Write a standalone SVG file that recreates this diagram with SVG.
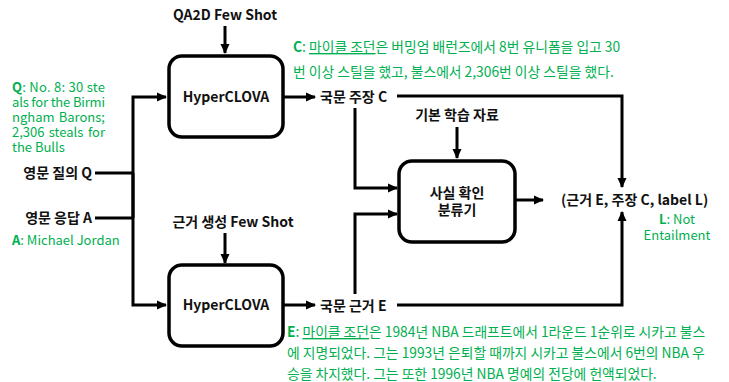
<svg xmlns="http://www.w3.org/2000/svg" width="729" height="382" viewBox="0 0 729 382">
<defs>
<marker id="ah" markerWidth="10" markerHeight="10" refX="9" refY="5" orient="auto" markerUnits="userSpaceOnUse">
<path d="M0,0.5 L10,5 L0,9.5 Z" fill="#000"/>
</marker>
<style>
.box{fill:#fff;stroke:#000;stroke-width:3.5}
.ln{fill:none;stroke:#000;stroke-width:3}
.arr{fill:none;stroke:#000;stroke-width:3;marker-end:url(#ah)}
.lb{font-family:"Noto Sans CJK KR","Noto Sans",sans-serif;font-weight:bold;font-size:14px;fill:#111}
.g{font-family:"Noto Sans CJK KR","Noto Sans",sans-serif;font-size:13.8px;fill:#00b050}
.q{font-family:"Noto Sans CJK KR","Noto Sans",sans-serif;font-size:13px;fill:#00b050}
.gb{font-weight:bold}
.u{text-decoration:underline}
</style>
</defs>
<rect width="729" height="382" fill="#fff"/>

<g id="connectors">
<path class="arr" d="M225,26 V53"/>
<path class="arr" d="M225,233 V263"/>
<path class="arr" d="M457,127 V158"/>
<path class="ln" d="M95,173 H133"/>
<path class="ln" d="M95,218 H133"/>
<path class="arr" d="M133,218 V97 H166"/>
<path class="arr" d="M133,173 V305 H166"/>
<path class="arr" d="M284,97 H315"/>
<path class="arr" d="M284,305 H315"/>
<path class="arr" d="M355,108 V188 H397"/>
<path class="arr" d="M355,294 V214 H397"/>
<path class="arr" d="M397,96 H622 V187"/>
<path class="arr" d="M397,305 H622 V212"/>
<path class="arr" d="M516,200 H543"/>
</g>

<g id="node-qa2d"><text class="lb" x="225" y="20" text-anchor="middle">QA2D Few Shot</text></g>
<g id="node-hyperclova-top">
<rect class="box" x="169" y="56" width="114" height="81" rx="13"/>
<text class="lb" x="226" y="102" text-anchor="middle">HyperCLOVA</text>
</g>
<g id="node-evidence-fewshot"><text class="lb" x="233" y="227" text-anchor="middle">근거 생성 Few Shot</text></g>
<g id="node-hyperclova-bottom">
<rect class="box" x="169" y="265" width="114" height="81" rx="13"/>
<text class="lb" x="226" y="310" text-anchor="middle">HyperCLOVA</text>
</g>
<g id="node-query"><text class="lb" x="92" y="178" text-anchor="end">영문 질의 Q</text></g>
<g id="node-answer"><text class="lb" x="92" y="223" text-anchor="end">영문 응답 A</text></g>
<g id="node-claim"><text class="lb" x="320" y="102">국문 주장 C</text></g>
<g id="node-evidence"><text class="lb" x="320" y="311">국문 근거 E</text></g>
<g id="node-base"><text class="lb" x="457" y="120" text-anchor="middle">기본 학습 자료</text></g>
<g id="node-classifier">
<rect class="box" x="399" y="161" width="116" height="81" rx="13"/>
<text class="lb" x="457" y="198" text-anchor="middle">사실 확인</text>
<text class="lb" x="457" y="215" text-anchor="middle">분류기</text>
</g>
<g id="node-output"><text class="lb" x="561" y="205">(근거 E, 주장 C, label L)</text></g>

<g id="notes">
<text class="q" x="12" y="92" textLength="93" lengthAdjust="spacing"><tspan class="gb">Q</tspan>: No. 8: 30 ste</text>
<text class="q" x="12" y="107" textLength="93" lengthAdjust="spacing">als for the Birmi</text>
<text class="q" x="12" y="122">ngham</text>
<text class="q" x="105" y="122" text-anchor="end">Barons;</text>
<text class="q" x="12" y="137">2,306</text>
<text class="q" x="66" y="137" text-anchor="middle">steals</text>
<text class="q" x="105" y="137" text-anchor="end">for</text>
<text class="q" x="12" y="152">the Bulls</text>
<text class="q" x="12" y="245"><tspan class="gb">A</tspan>: Michael Jordan</text>
<text class="g" x="293" y="52"><tspan class="gb">C</tspan>: <tspan class="u">마이클 조던</tspan>은 버밍엄 배런즈에서 8번 유니폼을 입고 30</text>
<text class="g" x="293" y="77">번 이상 스틸을 했고, 불스에서 2,306번 이상 스틸을 했다.</text>
<text class="q" x="677" y="224" text-anchor="middle"><tspan class="gb">L</tspan>: Not</text>
<text class="q" x="677" y="240" text-anchor="middle">Entailment</text>
<text class="g" x="287" y="337"><tspan class="gb">E</tspan>: <tspan class="u">마이클 조던</tspan>은 1984년 NBA 드래프트에서 1라운드 1순위로 시카고 불스</text>
<text class="g" x="287" y="358">에 지명되었다. 그는 1993년 은퇴할 때까지 시카고 불스에서 6번의 NBA 우</text>
<text class="g" x="287" y="379">승을 차지했다. 그는 또한 1996년 NBA 명예의 전당에 헌액되었다.</text>
</g>
</svg>
